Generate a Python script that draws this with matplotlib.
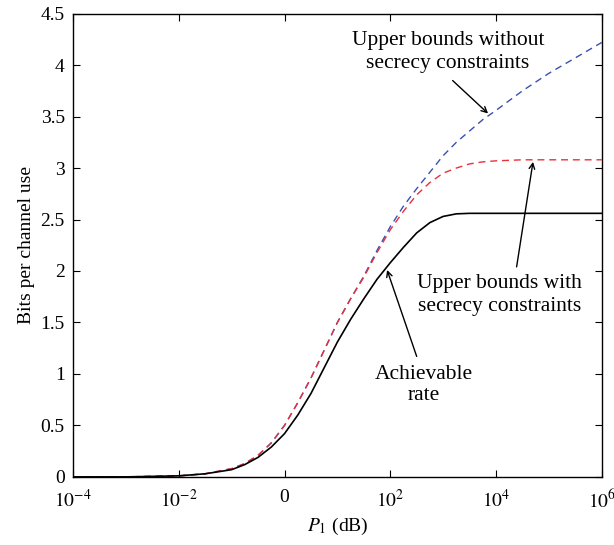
import numpy as np
import matplotlib
matplotlib.use("Agg")
import matplotlib.pyplot as plt
from matplotlib.ticker import FixedLocator, FixedFormatter, NullLocator

plt.rcParams['font.family'] = ['Liberation Serif', 'DejaVu Serif']
plt.rcParams['mathtext.fontset'] = 'stix'

log_p = [-4, -3, -2, -1.5, -1, -0.75, -0.5, -0.25, 0, 0.25, 0.5, 0.75, 1, 1.25, 1.5, 1.75,
         2, 2.25, 2.5, 2.75, 3, 3.25, 3.5, 3.75, 4, 4.5, 5, 5.5, 6]

## achievable rate (solid black)
achievable = [0.0, 0.0, 0.01, 0.03, 0.07, 0.12, 0.19, 0.29, 0.42, 0.6, 0.81, 1.06, 1.31, 1.53,
              1.73, 1.92, 2.08, 2.23, 2.37, 2.47, 2.53, 2.555, 2.56, 2.56, 2.56, 2.56, 2.56,
              2.56, 2.56]
## upper bounds without secrecy constraints (blue dashed)
upper_no_secrecy = [0.0, 0.0, 0.01, 0.03, 0.08, 0.13, 0.21, 0.33, 0.5, 0.72, 0.96, 1.23, 1.5,
                    1.73, 1.95, 2.2, 2.43, 2.63, 2.8, 2.96, 3.12, 3.25, 3.36, 3.47, 3.56, 3.75,
                    3.92, 4.07, 4.22]
## upper bounds with secrecy constraints (red dashed)
upper_secrecy = [0.0, 0.0, 0.01, 0.03, 0.08, 0.13, 0.21, 0.33, 0.5, 0.72, 0.96, 1.23, 1.5,
                 1.73, 1.94, 2.18, 2.4, 2.58, 2.74, 2.86, 2.95, 3.0, 3.04, 3.06, 3.07, 3.08,
                 3.08, 3.08, 3.08]

x_ticks = [1e-4, 1e-2, 1, 1e2, 1e4, 1e6]
x_labels = ['$10^{-4}$', '$10^{-2}$', '0', '$10^{2}$', '$10^{4}$', '$10^{6}$']
y_ticks = [0, 0.5, 1, 1.5, 2, 2.5, 3, 3.5, 4, 4.5]
y_labels = ['0', '0.5', '1', '1.5', '2', '2.5', '3', '3.5', '4', '4.5']

p = 10.0 ** np.array(log_p)

fig = plt.figure(figsize=(6.14, 5.45), dpi=100)
ax = fig.add_axes([0.119, 0.125, 0.861, 0.850])

ax.plot(p, upper_no_secrecy, color='#3a4fb5', lw=1.0, dashes=(5, 3.5))
ax.plot(p, upper_secrecy, color='#e8303a', lw=1.0, dashes=(5, 3.5))
ax.plot(p, achievable, color='black', lw=1.2)

ax.set_xscale('log')
ax.set_xlim(1e-4, 1e6)
ax.set_ylim(0, 4.5)
ax.xaxis.set_major_locator(FixedLocator(x_ticks))
ax.xaxis.set_major_formatter(FixedFormatter(x_labels))
ax.xaxis.set_minor_locator(NullLocator())
ax.set_yticks(y_ticks)
ax.set_yticklabels(y_labels)
ax.tick_params(direction='in', top=True, right=True, length=5, labelsize=14)
ax.tick_params(axis='x', pad=9)
ax.tick_params(axis='y', pad=6)
for s in ax.spines.values():
    s.set_linewidth(1.0)

ax.set_xlabel('$P_1$ (dB)', fontsize=14, labelpad=3)
ax.set_ylabel('Bits per channel use', fontsize=14)

arrow = dict(arrowstyle='->', color='black', lw=1.0, shrinkA=0, shrinkB=0)

ax.text(10 ** 3.09, 4.13, 'Upper bounds without\nsecrecy constraints', ha='center', va='center',
        fontsize=15.5, linespacing=1.3)
ax.annotate('', xy=(10 ** 3.85, 3.53), xytext=(10 ** 3.18, 3.85), arrowprops=arrow)

ax.text(10 ** 4.07, 1.77, 'Upper bounds with\nsecrecy constraints', ha='center', va='center',
        fontsize=15.5, linespacing=1.3)
ax.annotate('', xy=(10 ** 4.70, 3.06), xytext=(10 ** 4.39, 2.04), arrowprops=arrow)

ax.text(10 ** 2.64, 0.89, 'Achievable\nrate', ha='center', va='center',
        fontsize=15.5, linespacing=1.15)
ax.annotate('', xy=(10 ** 1.94, 2.01), xytext=(10 ** 2.50, 1.17), arrowprops=arrow)

fig.savefig('out.png', dpi=100)
